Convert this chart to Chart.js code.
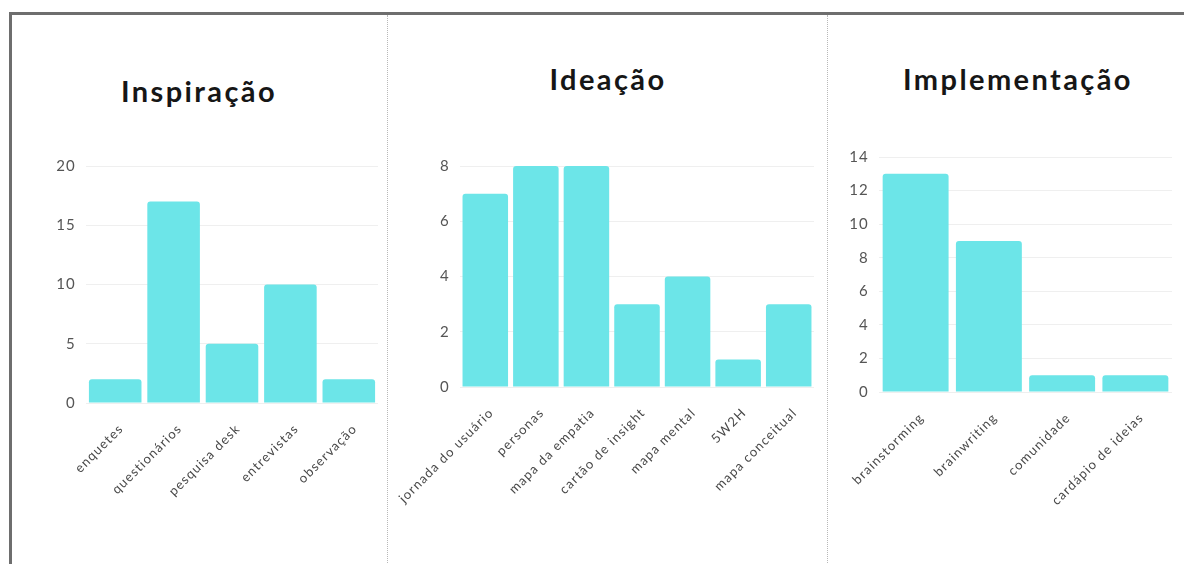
<!DOCTYPE html>
<html>
<head>
<meta charset="utf-8">
<script src="https://cdn.jsdelivr.net/npm/chart.js@4/dist/chart.umd.min.js"></script>
<style>
  html, body { margin: 0; padding: 0; background: #fff; }
  body { width: 1184px; height: 564px; position: relative; overflow: hidden; font-family: Lato, "Open Sans", sans-serif; }
  .frame { position: absolute; left: 9px; top: 12px; width: 1200px; height: 600px; border-top: 3px solid #6e6e6e; border-left: 3px solid #6e6e6e; box-sizing: border-box; }
  .sep { position: absolute; top: 15px; height: 560px; width: 0; border-left: 1px dotted #b8b8b8; }
  .title { position: absolute; font-family: Lato, sans-serif; font-weight: 700; font-size: 29px; letter-spacing: 2.4px; color: #161616; transform: translateX(-50%); white-space: nowrap; line-height: 1; }
  .box { position: absolute; }
</style>
</head>
<body>
<div class="frame"></div>
<div class="sep" style="left:387px"></div>
<div class="sep" style="left:827px"></div>

<div class="title" style="left:199px; top:76px;">Inspiração</div>
<div class="title" style="left:608px; top:64px;">Ideação</div>
<div class="title" style="left:1018px; top:64px;">Implementação</div>

<div class="box" style="left:20px; top:150px; width:365px; height:410px;"><canvas id="c1"></canvas></div>
<div class="box" style="left:390px; top:150px; width:430px; height:410px;"><canvas id="c2"></canvas></div>
<div class="box" style="left:830px; top:140px; width:350px; height:420px;"><canvas id="c3"></canvas></div>

<script>
const inspiracaoLabels = ["enquetes", "questionários", "pesquisa desk", "entrevistas", "observação"];
const inspiracaoValues = [2, 17, 5, 10, 2];

const ideacaoLabels = ["jornada do usuário", "personas", "mapa da empatia", "cartão de insight", "mapa mental", "5W2H", "mapa conceitual"];
const ideacaoValues = [7, 8, 8, 3, 4, 1, 3];

const implementacaoLabels = ["brainstorming", "brainwriting", "comunidade", "cardápio de ideias"];
const implementacaoValues = [13, 9, 1, 1];

const BAR_COLOR = "#6ce5e8";

const spacingPlugin = {
  id: "spacing",
  beforeDraw(chart) { chart.ctx.letterSpacing = "1.2px"; }
};

function makeChart(id, labels, values, opts) {
  new Chart(document.getElementById(id), {
    type: "bar",
    data: {
      labels: labels,
      datasets: [{
        data: values,
        backgroundColor: BAR_COLOR,
        borderWidth: 0,
        borderRadius: 3,
        borderSkipped: "bottom",
        barPercentage: 0.9,
        categoryPercentage: 1.0
      }]
    },
    plugins: [spacingPlugin],
    options: {
      responsive: true,
      maintainAspectRatio: false,
      animation: false,
      layout: { padding: { top: opts.padTop, right: opts.padRight, left: 0, bottom: 0 } },
      plugins: { legend: { display: false }, tooltip: { enabled: false }, title: { display: false } },
      scales: {
        x: {
          grid: { display: false },
          border: { display: false },
          ticks: {
            color: "#484848",
            font: { family: "Lato", size: 13 },
            maxRotation: 45, minRotation: 45, autoSkip: false,
            padding: 10, labelOffset: 6
          },
          afterFit: function(s) { s.height = opts.xHeight; s.paddingLeft = 0; s.paddingRight = 0; }
        },
        y: {
          min: 0, max: opts.max,
          grid: { color: "#efefef", lineWidth: 1, drawTicks: false },
          border: { display: false },
          ticks: {
            stepSize: opts.step,
            color: "#555",
            font: { family: "Lato", size: 15 },
            padding: 10
          },
          afterFit: function(s) { s.width = opts.yWidth; s.paddingTop = 0; s.paddingBottom = 0; }
        }
      }
    }
  });
}

makeChart("c1", inspiracaoLabels, inspiracaoValues, { max: 20, step: 5, padTop: 16, padRight: 7, yWidth: 66, xHeight: 157 });
makeChart("c2", ideacaoLabels, ideacaoValues, { max: 8, step: 2, padTop: 16, padRight: 6, yWidth: 70, xHeight: 173 });
makeChart("c3", implementacaoLabels, implementacaoValues, { max: 14, step: 2, padTop: 17, padRight: 8, yWidth: 49, xHeight: 168 });
</script>
</body>
</html>
